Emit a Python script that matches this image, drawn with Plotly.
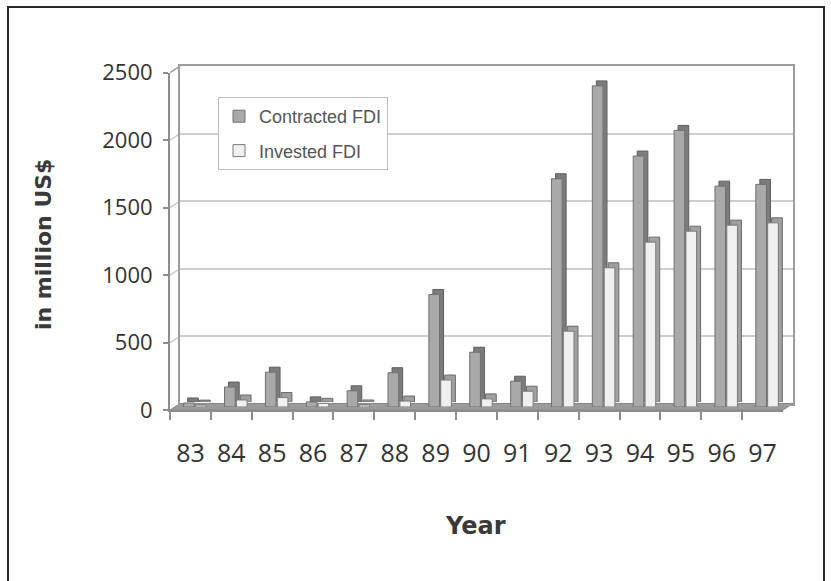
import plotly.graph_objects as go

# Foreign direct investment by year (million US$)
years = ["83", "84", "85", "86", "87", "88", "89", "90", "91", "92", "93", "94", "95", "96", "97"]
contracted_fdi = [30, 148, 258, 38, 120, 254, 834, 406, 191, 1692, 2380, 1860, 2050, 1637, 1650]
invested_fdi = [14, 52, 70, 27, 15, 44, 200, 60, 117, 562, 1032, 1222, 1303, 1348, 1365]
y_ticks = [0, 500, 1000, 1500, 2000, 2500]

W, H = 831, 581
Y_MAX = 2500


def fx(p):
    return p / W


def fy(p):
    return 1 - p / H


# pseudo-3D layout: front edge, back wall, bar front faces, bar back faces
FRONT = (170.0, 783.0, 410.0, 72.7)          # x0, x1, y(0), y(max) in pixels


def shifted(box, dx, dy):
    return (box[0] + dx, box[1] + dx, box[2] + dy, box[3] + dy)


WALL = shifted(FRONT, 10, -6.5)
BAR_FRONT = shifted(FRONT, 4.5, -3)
BAR_BACK = shifted(BAR_FRONT, 4, -5)


def domains(box):
    return [fx(box[0]), fx(box[1])], [fy(box[2]), fy(box[3])]


def ypix(box, v):
    return box[2] + (box[3] - box[2]) * v / Y_MAX


GRID = "#cdcdcd"
EDGE = "#8e8e8e"
TEXT = "#333333"

fig = go.Figure()

# invisible anchors so the front edge and the back wall subplots get drawn
for xa, ya in (("x", "y"), ("x2", "y2")):
    fig.add_trace(go.Scatter(x=years, y=contracted_fdi, xaxis=xa, yaxis=ya, mode="markers",
                             marker=dict(opacity=0), showlegend=False, hoverinfo="skip",
                             cliponaxis=True))

# back faces (side and top of each column)
fig.add_trace(go.Bar(x=years, y=contracted_fdi, xaxis="x3", yaxis="y3",
                     marker=dict(color="#7c7c7c", line=dict(color="#5e5e5e", width=1)),
                     showlegend=False, hoverinfo="skip"))
fig.add_trace(go.Bar(x=years, y=invested_fdi, xaxis="x3", yaxis="y3",
                     marker=dict(color="#a0a0a0", line=dict(color="#6a6a6a", width=1)),
                     showlegend=False, hoverinfo="skip"))
# front faces
fig.add_trace(go.Bar(x=years, y=contracted_fdi, xaxis="x4", yaxis="y4", name="Contracted FDI",
                     legendgroup="c",
                     marker=dict(color="#a9a9a9", line=dict(color="#707070", width=1))))
fig.add_trace(go.Bar(x=years, y=invested_fdi, xaxis="x4", yaxis="y4", name="Invested FDI",
                     legendgroup="i",
                     marker=dict(color="#f0f0f0", line=dict(color="#7a7a7a", width=1))))

cat = dict(type="category", categoryorder="array", categoryarray=years, range=[-0.5, 14.5],
           automargin=False)

fx_dom, fy_dom = domains(FRONT)
wx_dom, wy_dom = domains(WALL)
bfx_dom, bfy_dom = domains(BAR_FRONT)
bbx_dom, bby_dom = domains(BAR_BACK)

tick_font = dict(family="Open Sans, DejaVu Sans, sans-serif", color=TEXT)

fig.update_layout(
    width=W, height=H,
    margin=dict(l=0, r=0, t=0, b=0, autoexpand=False),
    paper_bgcolor="white",
    plot_bgcolor="rgba(0,0,0,0)",
    barmode="group", bargap=0.42, bargroupgap=0.1,
    # front edge: category ticks and value ticks
    xaxis=dict(**cat, domain=fx_dom, anchor="y", tickson="boundaries", ticks="outside",
               ticklen=8, tickcolor=EDGE, tickwidth=1.5, showline=True, linecolor=EDGE,
               linewidth=2, showgrid=False, zeroline=False, fixedrange=True,
               tickfont=dict(size=25, **tick_font), ticklabelstandoff=20),
    yaxis=dict(range=[0, Y_MAX], tickvals=y_ticks, domain=fy_dom, anchor="x",
               ticks="outside", ticklen=5, tickcolor=EDGE, tickwidth=1.5, showline=True,
               linecolor=EDGE, linewidth=2, showgrid=False, zeroline=False, automargin=False,
               tickfont=dict(size=22, **tick_font), ticklabelstandoff=6, fixedrange=True),
    # back wall with gridlines
    xaxis2=dict(**cat, domain=wx_dom, anchor="y2", showticklabels=False, ticks="",
                showline=True, mirror=True, linecolor="#9c9c9c", linewidth=1.5,
                showgrid=False, zeroline=False, layer="below traces", fixedrange=True),
    yaxis2=dict(range=[0, Y_MAX], tickvals=y_ticks, domain=wy_dom, anchor="x2",
                showticklabels=False, ticks="", showline=True, mirror=True, automargin=False,
                linecolor="#9c9c9c", linewidth=1.5, showgrid=True, gridcolor=GRID,
                gridwidth=1.5, zeroline=False, layer="below traces", fixedrange=True),
    # column back faces
    xaxis3=dict(**cat, domain=bbx_dom, anchor="y3", visible=False, fixedrange=True),
    yaxis3=dict(range=[0, Y_MAX], domain=bby_dom, anchor="x3", visible=False, fixedrange=True,
                automargin=False),
    # column front faces
    xaxis4=dict(**cat, domain=bfx_dom, anchor="y4", visible=False, fixedrange=True),
    yaxis4=dict(range=[0, Y_MAX], domain=bfy_dom, anchor="x4", visible=False, fixedrange=True,
                automargin=False),
    legend=dict(x=fx(218), y=fy(97), xanchor="left", yanchor="top",
                bgcolor="white", bordercolor="#bdbdbd", borderwidth=1,
                font=dict(family="Liberation Sans, Arial, sans-serif", size=18, color="#555555"),
                traceorder="grouped", tracegroupgap=8),
    annotations=[
        dict(text="Year", x=fx(476), y=fy(526), xref="paper", yref="paper",
             showarrow=False, xanchor="center", yanchor="middle",
             font=dict(family="DejaVu Sans, sans-serif", size=24, weight="bold", color="#3a3a3a")),
        dict(text="in million US$", x=fx(43), y=fy(245), xref="paper", yref="paper",
             showarrow=False, textangle=-90, xanchor="center", yanchor="middle",
             font=dict(family="DejaVu Sans, sans-serif", size=22, weight="bold", color="#3a3a3a")),
    ],
)

shapes = []
# floor
floor_path = "M {} {} L {} {} L {} {} L {} {} Z".format(
    fx(FRONT[0]), fy(FRONT[2]), fx(FRONT[1]), fy(FRONT[2]),
    fx(WALL[1]), fy(WALL[2]), fx(WALL[0]), fy(WALL[2]))
shapes.append(dict(type="path", path=floor_path, xref="paper", yref="paper",
                   fillcolor="#9a9a9a", line=dict(color="#858585", width=1), layer="below"))
# side wall: slanted segments joining front ticks to back gridlines
for v in y_ticks[1:]:
    shapes.append(dict(type="line", xref="paper", yref="paper",
                       x0=fx(FRONT[0]), y0=fy(ypix(FRONT, v)),
                       x1=fx(WALL[0]), y1=fy(ypix(WALL, v)),
                       line=dict(color=GRID if v < Y_MAX else "#9c9c9c", width=1.5), layer="below"))
# outer frame
frame = "M {} {} L {} {} L {} {} L {} {}".format(fx(8), fy(590), fx(8), fy(7), fx(824), fy(7), fx(824), fy(590))
shapes.append(dict(type="path", path=frame, xref="paper", yref="paper",
                   line=dict(color="#2a2a2a", width=2)))
fig.update_layout(shapes=shapes)

fig.write_html("out.html")
